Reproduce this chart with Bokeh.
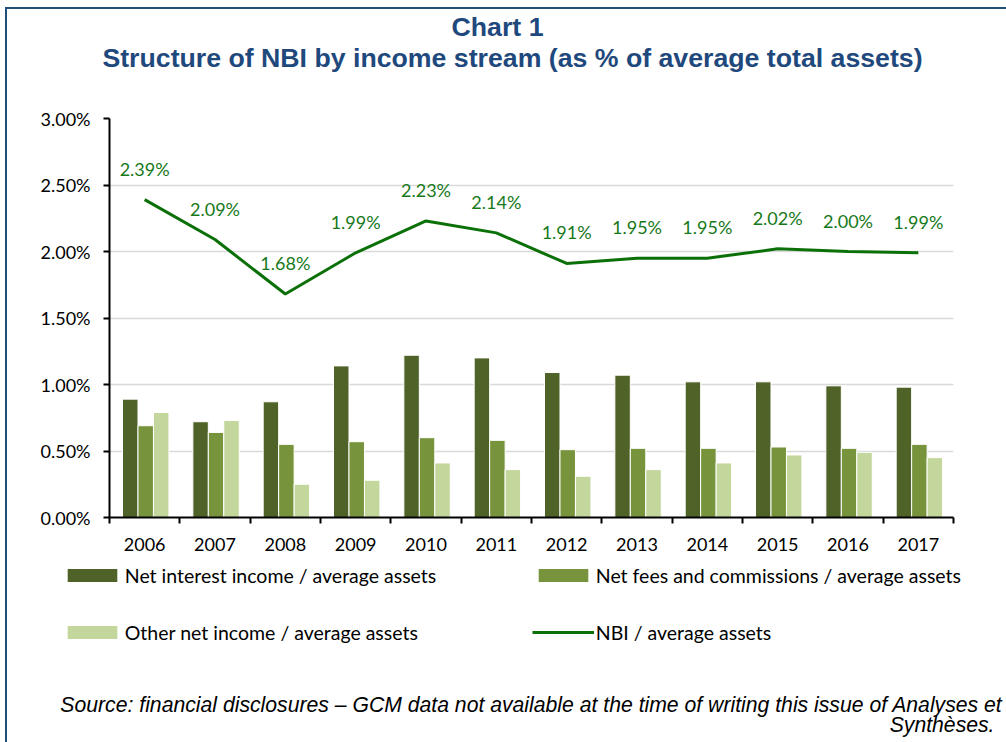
from bokeh.plotting import figure
from bokeh.layouts import column
from bokeh.models import (ColumnDataSource, FixedTicker, PrintfTickFormatter, Legend,
                          LegendItem, Label, Range1d)
from bokeh.transform import dodge
from bokeh.core.properties import value
from bokeh.embed import file_html
from bokeh.resources import INLINE

# ---------------- data ----------------
years = ["2006", "2007", "2008", "2009", "2010", "2011",
         "2012", "2013", "2014", "2015", "2016", "2017"]
net_interest = [0.89, 0.72, 0.87, 1.14, 1.22, 1.20, 1.09, 1.07, 1.02, 1.02, 0.99, 0.98]
net_fees = [0.69, 0.64, 0.55, 0.57, 0.60, 0.58, 0.51, 0.52, 0.52, 0.53, 0.52, 0.55]
other_income = [0.79, 0.73, 0.25, 0.28, 0.41, 0.36, 0.31, 0.36, 0.41, 0.47, 0.49, 0.45]
nbi = [2.39, 2.09, 1.68, 1.99, 2.23, 2.14, 1.91, 1.95, 1.95, 2.02, 2.00, 1.99]
y_ticks = [0.0, 0.5, 1.0, 1.5, 2.0, 2.5, 3.0]

series_names = ["Net interest income / average assets",
                "Net fees and commissions / average assets",
                "Other net income / average assets",
                "NBI / average assets"]
title_1 = "Chart 1"
title_2 = "Structure of NBI by income stream (as % of average total assets)"
source_1 = ("Source: financial disclosures \u2013 GCM data not available at the time "
            "of writing this issue of Analyses et")
source_2 = "Synth\u00e8ses."

# ---------------- styles ----------------
C_DARK = "#4F6228"
C_MID = "#77933C"
C_LIGHT = "#C3D69B"
C_LINE = "#0B7008"
C_LABEL = "#17791A"
C_TITLE = "#1F497D"
C_FRAME = "#1F4E79"
TICK_FONT = "Lato"
TICK_SIZE = "18px"
LEG_SIZE = "19.5px"
W = 1006

x_pos = [i + 0.5 for i in range(len(years))]
src = ColumnDataSource(dict(
    x=x_pos, nii=net_interest, nfc=net_fees, oth=other_income, nbi=nbi,
    nbi_label=[f"{v:.2f}%" for v in nbi],
))


def blank_fig(h, top_band):
    # plain drawing area: frame == canvas, no axes, ranges far from the data
    f = figure(width=W, height=h, output_backend="svg", toolbar_location=None,
               x_range=Range1d(100, 101), y_range=Range1d(100, 101),
               x_axis_location=None, y_axis_location=None, title_location=None,
               min_border=0, frame_align=False)
    f.grid.visible = False
    f.outline_line_color = None
    f.background_fill_color = None
    f.border_fill_color = None
    ty, ty2 = (7, 9) if top_band else (0, 0)
    f.styles = {"background-color": "white",
                "box-shadow": f"inset 5px {ty}px 0 0 white, inset 7px {ty2}px 0 0 {C_FRAME}"}
    return f


# ---------------- title block ----------------
H_TOP = 100
p_top = blank_fig(H_TOP, True)
for txt, x, base in ((title_1, 497, 26.0), (title_2, 512, 57.5)):
    p_top.add_layout(Label(x=x, y=H_TOP - base, x_units="screen", y_units="screen",
                           text=txt, text_align="center", text_baseline="alphabetic",
                           text_font="Liberation Sans", text_font_size="26.7px",
                           text_font_style="bold", text_color=C_TITLE))

# ---------------- chart ----------------
p = figure(width=W, height=460, output_backend="svg", toolbar_location=None,
           x_range=Range1d(0, len(years)), y_range=Range1d(0, 3.0),
           title_location=None, frame_align=False,
           min_border_left=109, min_border_right=53,
           min_border_top=18, min_border_bottom=43)
p.styles = {"background-color": "white",
            "box-shadow": f"inset 5px 0 0 0 white, inset 7px 0 0 0 {C_FRAME}"}
p.outline_line_color = None
p.background_fill_color = "white"
p.border_fill_color = None

bar_style = dict(width=0.22, source=src, line_color="white", line_width=1)
p.vbar(x=dodge("x", -0.205, range=p.x_range), top="nii", fill_color=C_DARK, **bar_style)
p.vbar(x=dodge("x", 0.015, range=p.x_range), top="nfc", fill_color=C_MID, **bar_style)
p.vbar(x=dodge("x", 0.235, range=p.x_range), top="oth", fill_color=C_LIGHT, **bar_style)
p.line(x="x", y="nbi", source=src, line_color=C_LINE, line_width=3)
p.text(x="x", y="nbi", text="nbi_label", source=src, y_offset=-31,
       text_align="center", text_baseline="middle",
       text_font=value(TICK_FONT), text_font_size=value(TICK_SIZE), text_color=C_LABEL)

p.yaxis.ticker = FixedTicker(ticks=y_ticks)
p.yaxis.formatter = PrintfTickFormatter(format="%.2f%%")
p.yaxis.major_tick_out = 6
p.yaxis.major_tick_in = 0
p.yaxis.minor_tick_line_color = None
p.yaxis.major_label_standoff = 13
p.yaxis.axis_line_width = 2
p.yaxis.major_tick_line_width = 2

p.xaxis.ticker = FixedTicker(ticks=x_pos, minor_ticks=list(range(len(years) + 1)))
p.xaxis.major_label_overrides = {x: y for x, y in zip(x_pos, years)}
p.xaxis.major_tick_line_color = None
p.xaxis.major_tick_out = 0
p.xaxis.major_tick_in = 0
p.xaxis.minor_tick_out = 6
p.xaxis.minor_tick_in = 0
p.xaxis.minor_tick_line_color = "black"
p.xaxis.minor_tick_line_width = 2
p.xaxis.major_label_standoff = 14
p.xaxis.axis_line_width = 2

for ax in (p.xaxis, p.yaxis):
    ax.axis_line_color = "black"
    ax.major_label_text_font = TICK_FONT
    ax.major_label_text_font_size = TICK_SIZE
    ax.major_label_text_color = "black"

p.xgrid.grid_line_color = None
p.ygrid.grid_line_color = "#D9D9D9"
p.ygrid.grid_line_width = 1.5

# ---------------- legend + source block ----------------
H_BOT = 742 - H_TOP - 460
p_bot = blank_fig(H_BOT, False)
# legend keys: same series, drawn outside this block's visible ranges
k1 = p_bot.vbar(x="x", top="nii", source=src, width=0.22, fill_color=C_DARK, line_color=None)
k2 = p_bot.vbar(x="x", top="nfc", source=src, width=0.22, fill_color=C_MID, line_color=None)
k3 = p_bot.vbar(x="x", top="oth", source=src, width=0.22, fill_color=C_LIGHT, line_color=None)
k4 = p_bot.line(x="x", y="nbi", source=src, line_color=C_LINE, line_width=3)


def make_legend(items, row_top):
    return Legend(items=items, location=(60.8, H_BOT - row_top - 24),
                  orientation="horizontal",
                  glyph_width=62, glyph_height=16, label_standoff=2,
                  label_height=24, label_width=397, spacing=10, padding=0, margin=0,
                  border_line_color=None, background_fill_alpha=0,
                  label_text_font=TICK_FONT, label_text_font_size=LEG_SIZE,
                  label_text_color="black")


p_bot.add_layout(make_legend([LegendItem(label=series_names[0], renderers=[k1]),
                              LegendItem(label=series_names[1], renderers=[k2])], 3))
p_bot.add_layout(make_legend([LegendItem(label=series_names[2], renderers=[k3]),
                              LegendItem(label=series_names[3], renderers=[k4])], 60))

for txt, x, base in ((source_1, 1002, 143.5), (source_2, 994, 163.5)):
    p_bot.add_layout(Label(x=x, y=H_BOT - base, x_units="screen", y_units="screen",
                           text=txt, text_align="right", text_baseline="alphabetic",
                           text_font="Liberation Sans", text_font_size="21.2px",
                           text_font_style="italic", text_color="black"))

layout = column(p_top, p, p_bot, spacing=0)
open("out.html", "w").write(file_html(layout, INLINE))
